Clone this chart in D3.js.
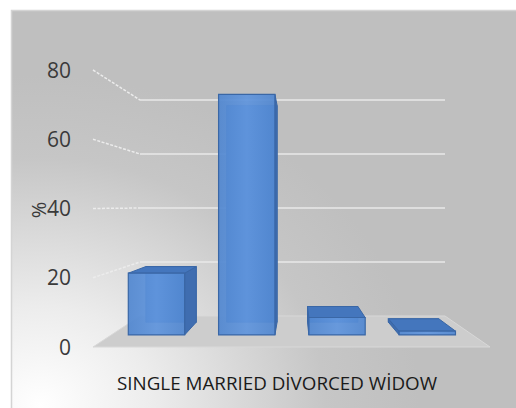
<!DOCTYPE html>
<html><head><meta charset="utf-8">
<script src="https://cdn.jsdelivr.net/npm/d3@7"></script>
<style>html,body{margin:0;padding:0;background:#fff;overflow:hidden}</style>
</head><body>
<svg id="c" width="516" height="408"></svg>
<script>
const categories = ["SINGLE", "MARRIED", "DİVORCED", "WİDOW"];
const values = [19.5, 76, 5.5, 1.2];
const yTicks = [0, 20, 40, 60, 80];
const yTitle = "%";

const svg = d3.select("#c");
const defs = svg.append("defs");
const rg = defs.append("radialGradient").attr("id", "bg")
  .attr("gradientUnits", "userSpaceOnUse")
  .attr("cx", 40).attr("cy", 405).attr("r", 330)
  .attr("gradientTransform", "translate(40,405) scale(1.15,1) translate(-40,-405)");
rg.append("stop").attr("offset", 0).attr("stop-color", "#ffffff");
rg.append("stop").attr("offset", 0.3).attr("stop-color", "#ececec");
rg.append("stop").attr("offset", 0.75).attr("stop-color", "#c6c6c6");
rg.append("stop").attr("offset", 1).attr("stop-color", "#bfbfbf");

const fg = defs.append("linearGradient").attr("id", "front").attr("x1", 0).attr("x2", 1).attr("y1", 0).attr("y2", 0);
fg.append("stop").attr("offset", 0).attr("stop-color", "#5187d0");
fg.append("stop").attr("offset", 0.5).attr("stop-color", "#6095dd");
fg.append("stop").attr("offset", 1).attr("stop-color", "#5187d0");

svg.append("rect").attr("x", 11.5).attr("y", 10.5).attr("width", 520).attr("height", 420)
  .attr("fill", "url(#bg)").attr("stroke", "#d4d4d4").attr("stroke-width", 1.5);

// pseudo-3D projection: front plane & back plane scales
const xFront = d3.scaleLinear().domain([0, 1]).range([93, 490]);
const xBack = d3.scaleLinear().domain([0, 1]).range([140, 445]);
const yFront = d3.scaleLinear().domain([0, 80]).range([347, 70]);
const yBack = d3.scaleLinear().domain([0, 80]).range([316, 100]);
const band = d3.scaleBand().domain(categories).range([0, 1]).paddingInner(0.376).paddingOuter(0.188);
function proj(u, v, d) {
  const xf = xFront(u), xb = xBack(u), yf = yFront(v), yb = yBack(v);
  return [xf + (xb - xf) * d, yf + (yb - yf) * d];
}
const line = d3.line();

// floor
svg.append("path")
  .attr("d", line([proj(0,0,0), proj(1,0,0), proj(1,0,1), proj(0,0,1)]) + "Z")
  .attr("fill", "#cdcdcd").attr("stroke", "#d8d8d8").attr("stroke-width", 1);

// gridlines: side wall + back wall
yTicks.filter(t => t > 0).forEach(t => {
  svg.append("path").attr("d", line([proj(0, t, 0), proj(0, t, 1)]))
    .attr("stroke", "#ececec").attr("stroke-width", 1.5).attr("stroke-dasharray", "3,1.5").attr("fill", "none");
  svg.append("path").attr("d", line([proj(0, t, 1), proj(1, t, 1)]))
    .attr("stroke", "#e8e8e8").attr("stroke-width", 1.5).attr("fill", "none");
});

// bars
const d0 = 0.39, d1 = 0.8;
const barG = svg.append("g");
categories.forEach((c, i) => {
  const v = values[i];
  const u0 = band(c), u1 = band(c) + band.bandwidth();
  const P = (u, vv, d) => proj(u, vv, d);
  const g = barG.append("g");
  const edge = "#3a67a6";
  g.append("path").attr("d", line([P(u0,0,d1), P(u1,0,d1), P(u1,v,d1), P(u0,v,d1)]) + "Z")
    .attr("fill", "#4a7cc2").attr("stroke", edge).attr("stroke-width", 0.8);
  if (P(u0, 0, d1)[0] < P(u0, 0, d0)[0]) {
    g.append("path").attr("d", line([P(u0,0,d0), P(u0,0,d1), P(u0,v,d1), P(u0,v,d0)]) + "Z")
      .attr("fill", "#3f6db0").attr("stroke", edge).attr("stroke-width", 1);
  }
  if (P(u1, 0, d1)[0] > P(u1, 0, d0)[0]) {
    g.append("path").attr("d", line([P(u1,0,d0), P(u1,0,d1), P(u1,v,d1), P(u1,v,d0)]) + "Z")
      .attr("fill", "#3f6db0").attr("stroke", edge).attr("stroke-width", 1);
  }
  if (P(u0, v, d1)[1] < P(u0, v, d0)[1]) {
    g.append("path").attr("d", line([P(u0,v,d0), P(u1,v,d0), P(u1,v,d1), P(u0,v,d1)]) + "Z")
      .attr("fill", "#4476bd").attr("stroke", edge).attr("stroke-width", 1);
  }
  g.append("path").attr("d", line([P(u0,0,d0), P(u1,0,d0), P(u1,v,d0), P(u0,v,d0)]) + "Z")
    .attr("fill", "url(#front)").attr("fill-opacity", 0.93).attr("stroke", edge).attr("stroke-width", 1.2);
});

// y tick labels
svg.append("g").selectAll("text").data(yTicks).join("text")
  .attr("x", 71).attr("y", d => yFront(d)).attr("dy", "0.36em")
  .attr("text-anchor", "end").attr("fill", "#3a3a3a")
  .style("font-family", "'Open Sans', sans-serif").style("font-size", "21px")
  .text(d => d);

// y title
svg.append("text").attr("transform", "translate(39,210) rotate(-90)")
  .attr("text-anchor", "middle").attr("dy", "0.36em").attr("fill", "#3a3a3a")
  .style("font-family", "'Open Sans', sans-serif").style("font-size", "20px")
  .text(yTitle);

// category labels (single line)
svg.append("text").attr("x", 277).attr("y", 390).attr("text-anchor", "middle")
  .attr("fill", "#1a1a1a").attr("textLength", 320).attr("lengthAdjust", "spacingAndGlyphs")
  .style("font-family", "'Open Sans', sans-serif").style("font-size", "19px")
  .text(categories.join(" "));
</script>
</body></html>
